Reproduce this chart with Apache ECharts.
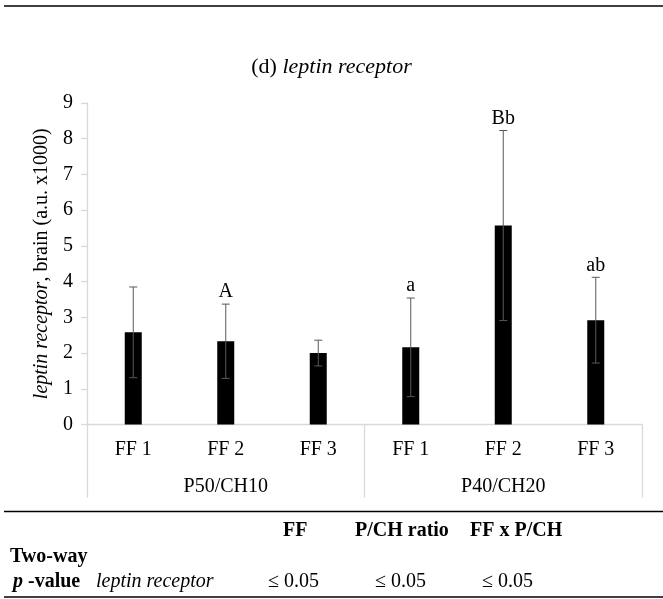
<!DOCTYPE html>
<html>
<head>
<meta charset="utf-8">
<script src="https://cdn.jsdelivr.net/npm/echarts@6/dist/echarts.min.js"></script>
<style>
  html, body { margin: 0; padding: 0; background: #fff; }
  #chart { width: 663px; height: 599px; }
</style>
</head>
<body>
<div id="chart"></div>
<script>
// 数据
var categories = ['FF 1', 'FF 2', 'FF 3', 'FF 1', 'FF 2', 'FF 3'];
var groups = ['P50/CH10', 'P40/CH20'];
var means = [2.58, 2.33, 2.00, 2.16, 5.57, 2.92];
var errors = [1.27, 1.04, 0.36, 1.38, 2.66, 1.20];
var letters = ['', 'A', '', 'a', 'Bb', 'ab'];
var yTicks = [0, 9, 1];

var FONT = '"Liberation Serif", "Times New Roman", serif';
var FS = 20;
var chart = echarts.init(document.getElementById('chart'));

var errData = means.map(function (m, i) { return [i, m - errors[i], m + errors[i], letters[i]]; });

// 误差线 + 字母
function renderErr(params, api) {
  var x = api.value(0);
  var lo = api.coord([x, api.value(1)]);
  var hi = api.coord([x, api.value(2)]);
  var cap = 4;
  var st = { stroke: '#595959', lineWidth: 1 };
  return {
    type: 'group',
    children: [
      { type: 'line', shape: { x1: lo[0], y1: lo[1], x2: hi[0], y2: hi[1] }, style: st },
      { type: 'line', shape: { x1: lo[0] - cap, y1: lo[1], x2: lo[0] + cap, y2: lo[1] }, style: st },
      { type: 'line', shape: { x1: hi[0] - cap, y1: hi[1], x2: hi[0] + cap, y2: hi[1] }, style: st },
      { type: 'text', style: {
          text: api.value(3), x: hi[0], y: hi[1] - 2, align: 'center', verticalAlign: 'bottom',
          font: FS + 'px ' + FONT, fill: '#000'
      } }
    ]
  };
}

function tText(x, y, text, weight, style) {
  return { type: 'text', left: x, top: y, style: {
    text: text, font: (style || 'normal') + ' ' + (weight || 'normal') + ' ' + FS + 'px ' + FONT, fill: '#000'
  } };
}

var option = {
  animation: false,
  title: {
    text: '{n|(d) }{i|leptin receptor}',
    left: 'center',
    top: 51,
    textStyle: {
      rich: {
        n: { fontFamily: FONT, fontSize: 22, fontWeight: 'normal', color: '#000' },
        i: { fontFamily: FONT, fontSize: 22, fontWeight: 'normal', fontStyle: 'italic', color: '#000' }
      }
    }
  },
  grid: { left: 87, right: 21, top: 103, bottom: 174.5 },
  xAxis: [{
    type: 'category',
    data: categories,
    axisLine: { lineStyle: { color: '#d9d9d9', width: 1.3 } },
    axisTick: { show: false },
    axisLabel: { color: '#000', fontFamily: FONT, fontSize: FS, margin: 15 }
  }, {
    type: 'category',
    data: groups,
    position: 'bottom',
    axisLine: { show: false },
    axisTick: { show: true, length: 73, lineStyle: { color: '#d9d9d9', width: 1.3 } },
    axisLabel: { color: '#000', fontFamily: FONT, fontSize: FS, margin: 52 }
  }],
  yAxis: {
    type: 'value',
    min: yTicks[0],
    max: yTicks[1],
    interval: yTicks[2],
    name: '{i|leptin receptor}{n|, brain (a.u. x1000)}',
    nameLocation: 'middle',
    nameGap: 33,
    nameTextStyle: {
      rich: {
        n: { fontFamily: FONT, fontSize: FS, color: '#000' },
        i: { fontFamily: FONT, fontSize: FS, fontStyle: 'italic', color: '#000' }
      }
    },
    axisLine: { show: true, lineStyle: { color: '#d9d9d9', width: 1.3 } },
    axisTick: { show: true, length: 6, lineStyle: { color: '#d9d9d9', width: 1.3 } },
    splitLine: { show: false },
    axisLabel: { color: '#000', fontFamily: FONT, fontSize: FS, margin: 14 }
  },
  series: [{
    type: 'bar',
    data: means,
    barWidth: 17,
    itemStyle: { color: '#000' }
  }, {
    type: 'custom',
    data: errData,
    renderItem: renderErr,
    z: 5
  }],
  graphic: [
    { type: 'line', shape: { x1: 4, y1: 6, x2: 663, y2: 6 }, style: { stroke: '#000', lineWidth: 1.5 } },
    { type: 'line', shape: { x1: 4, y1: 511.5, x2: 663, y2: 511.5 }, style: { stroke: '#000', lineWidth: 1.5 } },
    { type: 'line', shape: { x1: 4, y1: 597, x2: 663, y2: 597 }, style: { stroke: '#000', lineWidth: 1.5 } },
    tText(283, 521, 'FF', 'bold'),
    tText(355, 521, 'P/CH ratio', 'bold'),
    tText(470, 521, 'FF x P/CH', 'bold'),
    tText(10, 547, 'Two-way', 'bold'),
    { type: 'text', left: 13, top: 572, style: {
      text: '{p|p}{v| -value}',
      rich: {
        p: { font: 'italic bold ' + FS + 'px ' + FONT, fill: '#000' },
        v: { font: 'bold ' + FS + 'px ' + FONT, fill: '#000' }
      }
    } },
    tText(96, 572, 'leptin receptor', 'normal', 'italic'),
    tText(268, 572, '≤ 0.05'),
    tText(375, 572, '≤ 0.05'),
    tText(482, 572, '≤ 0.05')
  ]
};

chart.setOption(option);
</script>
</body>
</html>
